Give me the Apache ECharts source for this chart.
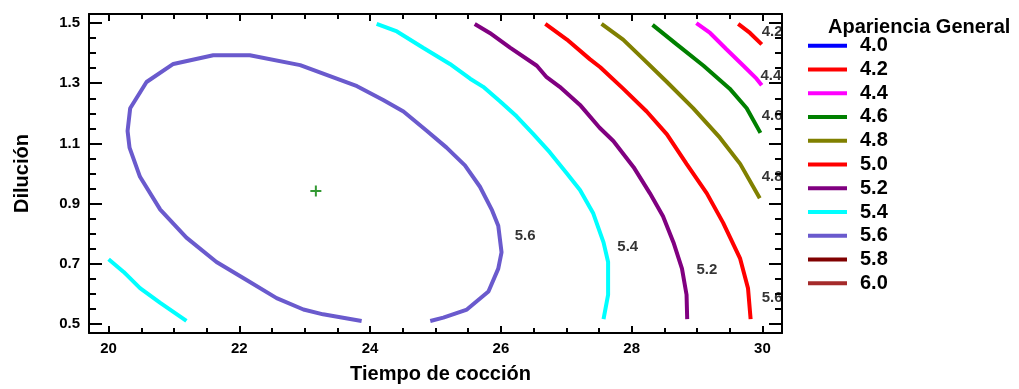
<!DOCTYPE html>
<html>
<head>
<meta charset="utf-8">
<script src="https://cdn.jsdelivr.net/npm/echarts@6/dist/echarts.min.js"></script>
<style>html,body{margin:0;padding:0;background:#fff;}#chart{width:1019px;height:389px;}</style>
</head>
<body>
<div id="chart"></div>
<script>
// ---- Data ----
const xMajorTicks = [20, 22, 24, 26, 28, 30];
const xMinorTicks = [20.5, 21, 21.5, 22.5, 23, 23.5, 24.5, 25, 25.5, 26.5, 27, 27.5, 28.5, 29, 29.5];
const yMajorTicks = [0.5, 0.7, 0.9, 1.1, 1.3, 1.5];
const yMinorTicks = [0.55, 0.6, 0.65, 0.75, 0.8, 0.85, 0.95, 1.0, 1.05, 1.15, 1.2, 1.25, 1.35, 1.4, 1.45];

const legendLevels = ['4.0', '4.2', '4.4', '4.6', '4.8', '5.0', '5.2', '5.4', '5.6', '5.8', '6.0'];
const levelColors = ['#0000FF', '#FF0000', '#FF00FF', '#008000', '#808000', '#FF0000', '#800080', '#00FFFF', '#6A5ACD', '#800000', '#A52A2A'];

const contour42 = [[29.63, 1.497], [29.81, 1.467], [29.99, 1.429]];
const contour44 = [[28.99, 1.500], [29.20, 1.467], [29.45, 1.413], [29.71, 1.358], [29.91, 1.315], [29.99, 1.293]];
const contour46 = [[28.32, 1.494], [28.69, 1.429], [29.10, 1.358], [29.50, 1.282], [29.76, 1.217], [29.97, 1.135]];
const contour48 = [[27.54, 1.497], [27.87, 1.445], [28.18, 1.380], [28.54, 1.304], [28.94, 1.217], [29.35, 1.119], [29.66, 1.032], [29.96, 0.918]];
const contour50 = [[26.68, 1.497], [27.01, 1.445], [27.36, 1.380], [27.52, 1.353], [27.87, 1.282], [28.23, 1.206], [28.54, 1.130], [28.84, 1.032], [29.15, 0.934], [29.40, 0.836], [29.66, 0.717], [29.78, 0.619], [29.82, 0.516]];
const contour52 = [[25.60, 1.497], [25.83, 1.467], [26.14, 1.418], [26.55, 1.358], [26.70, 1.320], [26.90, 1.288], [27.21, 1.228], [27.51, 1.152], [27.72, 1.108], [28.03, 1.021], [28.28, 0.934], [28.48, 0.858], [28.64, 0.771], [28.77, 0.684], [28.84, 0.597], [28.85, 0.516]];
const contour54main = [[24.10, 1.497], [24.41, 1.472], [24.81, 1.418], [25.22, 1.364], [25.53, 1.315], [25.73, 1.288], [25.99, 1.239], [26.24, 1.190], [26.50, 1.130], [26.75, 1.070], [27.01, 1.000], [27.21, 0.945], [27.41, 0.869], [27.57, 0.771], [27.64, 0.706], [27.64, 0.597], [27.57, 0.516]];
const contour54small = [[20.00, 0.715], [20.23, 0.673], [20.48, 0.619], [20.79, 0.570], [21.19, 0.510]];
const contour56 = [[23.87, 0.510], [23.28, 0.532], [22.98, 0.548], [22.57, 0.586], [22.11, 0.646], [21.65, 0.706], [21.19, 0.787], [20.79, 0.880], [20.48, 0.989], [20.32, 1.086], [20.29, 1.141], [20.33, 1.217], [20.58, 1.304], [20.99, 1.364], [21.60, 1.393], [22.16, 1.393], [22.93, 1.360], [23.80, 1.290], [24.20, 1.244], [24.51, 1.206], [24.87, 1.141], [25.17, 1.086], [25.45, 1.027], [25.68, 0.956], [25.86, 0.880], [25.96, 0.826], [26.01, 0.738], [25.96, 0.684], [25.81, 0.608], [25.48, 0.548], [25.12, 0.521], [24.92, 0.510]];

const contourLabels = [
  {value: [30.15, 1.472], name: '4.2'},
  {value: [30.13, 1.325], name: '4.4'},
  {value: [30.15, 1.191], name: '4.6'},
  {value: [30.15, 0.989], name: '4.8'},
  {value: [30.15, 0.586], name: '5.6'},
  {value: [27.94, 0.755], name: '5.4'},
  {value: [29.15, 0.679], name: '5.2'},
  {value: [26.37, 0.793], name: '5.6'}
];
const optimumPoint = [[23.17, 0.942]];

// ---- Chart ----
const FONT = 'Liberation Sans, Arial, sans-serif';
const chart = echarts.init(document.getElementById('chart'), null, {renderer: 'canvas'});

function colorOf(level) { return levelColors[legendLevels.indexOf(level)]; }
function lineSeries(level, data) {
  const c = colorOf(level);
  return {
    type: 'line', name: level, data: data, showSymbol: false, symbol: 'none',
    lineStyle: {width: 4, color: c}, itemStyle: {color: c},
    xAxisIndex: 0, yAxisIndex: 0, silent: true, z: 3
  };
}

const series = [
  lineSeries('4.0', []),
  lineSeries('4.2', contour42),
  lineSeries('4.4', contour44),
  lineSeries('4.6', contour46),
  lineSeries('4.8', contour48),
  lineSeries('5.0', contour50),
  lineSeries('5.2', contour52),
  lineSeries('5.4', contour54main),
  lineSeries('5.4', contour54small),
  lineSeries('5.6', contour56),
  lineSeries('5.8', []),
  lineSeries('6.0', []),
  {
    type: 'scatter', name: 'labels', data: contourLabels, symbolSize: 0,
    xAxisIndex: 0, yAxisIndex: 0, silent: true, z: 4,
    label: {show: true, position: 'inside', formatter: '{b}', color: '#000', fontSize: 15, fontWeight: 'bold', fontFamily: FONT}
  },
  {
    type: 'scatter', name: 'optimo', data: optimumPoint,
    symbol: 'path://M4.5,0h2v4.5h4.5v2h-4.5v4.5h-2v-4.5h-4.5v-2h4.5z',
    symbolSize: 11, itemStyle: {color: '#008000'}, xAxisIndex: 0, yAxisIndex: 0, silent: true, z: 5
  }
];

const axisLabelStyle = {color: '#000', fontSize: 15, fontWeight: 'bold', fontFamily: FONT};
function xAxisDef(pos, major, showLabel, showLine) {
  return {
    type: 'value', min: 19.7, max: 30.3, position: pos,
    axisLine: {show: showLine, onZero: false, lineStyle: {color: '#000', width: 2}},
    axisTick: {show: true, inside: true, customValues: major ? xMajorTicks : xMinorTicks, length: major ? 7 : 5, lineStyle: {color: '#000', width: 2}},
    axisLabel: {show: showLabel, customValues: xMajorTicks, margin: 8, ...axisLabelStyle},
    splitLine: {show: false}
  };
}
function yAxisDef(pos, major, showLabel, showLine) {
  return {
    type: 'value', min: 0.47, max: 1.53, position: pos,
    axisLine: {show: showLine, onZero: false, lineStyle: {color: '#000', width: 2}},
    axisTick: {show: true, inside: true, customValues: major ? yMajorTicks : yMinorTicks, length: major ? 13 : 7, lineStyle: {color: '#000', width: 2}},
    axisLabel: {show: showLabel, customValues: yMajorTicks, margin: 9, formatter: v => String(+v.toFixed(2)), ...axisLabelStyle},
    splitLine: {show: false}
  };
}

const xAxes = [xAxisDef('bottom', true, true, true), xAxisDef('top', true, false, true), xAxisDef('bottom', false, false, false), xAxisDef('top', false, false, false)];
xAxes[0].name = 'Tiempo de cocción';
xAxes[0].nameLocation = 'middle';
xAxes[0].nameGap = 31;
xAxes[0].nameTextStyle = {color: '#000', fontSize: 20, fontWeight: 'bold', fontFamily: FONT, padding: [0, 0, 0, 10]};
const yAxes = [yAxisDef('left', true, true, true), yAxisDef('right', true, false, true), yAxisDef('left', false, false, false), yAxisDef('right', false, false, false)];
yAxes[0].name = 'Dilución';
yAxes[0].nameLocation = 'middle';
yAxes[0].nameGap = 57;
yAxes[0].nameTextStyle = {color: '#000', fontSize: 20, fontWeight: 'bold', fontFamily: FONT};

chart.setOption({
  animation: false,
  backgroundColor: '#fff',
  title: {
    text: 'Apariencia General', left: 828, top: 17, padding: 0,
    textStyle: {color: '#000', fontSize: 20, fontWeight: 'bold', fontFamily: FONT}
  },
  legend: {
    data: legendLevels, orient: 'vertical', left: 808, top: 35.7, padding: 0,
    itemWidth: 39, itemHeight: 4, itemGap: 3.76, icon: 'rect', selectedMode: false,
    textStyle: {color: '#000', fontSize: 20, fontWeight: 'bold', fontFamily: FONT, lineHeight: 20, padding: [0, 0, 0, 8]}
  },
  grid: {left: 89, right: 237, top: 14, bottom: 50, containLabel: false},
  xAxis: xAxes,
  yAxis: yAxes,
  series: series
});
</script>
</body>
</html>
